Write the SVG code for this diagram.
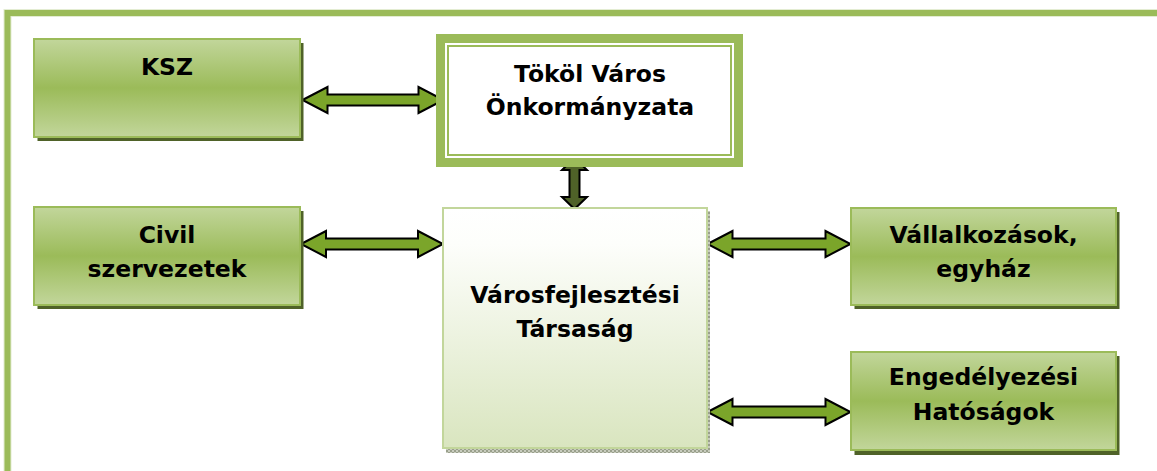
<svg xmlns="http://www.w3.org/2000/svg" width="1157" height="471" viewBox="0 0 1157 471">
<style>
.t{font-family:"DejaVu Sans","Verdana",sans-serif;font-weight:bold;font-size:23.5px;fill:#000;text-anchor:middle}
.gbox{fill:url(#gg);stroke:#9BBB59;stroke-width:2}
.shadow{fill:#4F6228}
.arr{fill:#7BA52A;stroke:#000;stroke-width:2;stroke-linejoin:miter}
.varr{fill:#4F6228;stroke:#000;stroke-width:2}
</style>
<defs>
<linearGradient id="gg" x1="0" y1="0" x2="0" y2="1">
<stop offset="0" stop-color="#C2D69B"/>
<stop offset="0.5" stop-color="#9BBB59"/>
<stop offset="1" stop-color="#C2D69B"/>
</linearGradient>
<linearGradient id="wg" x1="0" y1="0" x2="0" y2="1">
<stop offset="0" stop-color="#FFFFFF"/>
<stop offset="0.15" stop-color="#FDFEFB"/>
<stop offset="1" stop-color="#D9E5BF"/>
</linearGradient>
<pattern id="hatch" width="4" height="4" patternUnits="userSpaceOnUse">
<rect width="4" height="4" fill="#C8CCBE"/>
<rect width="2" height="2" fill="#9AA08C"/>
<rect x="2" y="2" width="2" height="2" fill="#9AA08C"/>
</pattern>
</defs>

<g id="frame">
<path d="M7.5,480 L7.5,13 L1170,13" fill="none" stroke="#E3ECD2" stroke-width="8"/>
<path d="M7.5,480 L7.5,13 L1170,13" fill="none" stroke="#9BBB59" stroke-width="6"/>
</g>

<g id="connectors">
<path class="arr" d="M302.5,100 L327.5,87 L327.5,94.5 L418.5,94.5 L418.5,87 L443.5,100 L418.5,113 L418.5,105.5 L327.5,105.5 L327.5,113 Z"/>
<path class="arr" d="M301,244 L326,231 L326,238.5 L418,238.5 L418,231 L443,244 L418,257 L418,249.5 L326,249.5 L326,257 Z"/>
<path class="arr" d="M707.5,244 L732.5,231 L732.5,238.5 L825.5,238.5 L825.5,231 L850.5,244 L825.5,257 L825.5,249.5 L732.5,249.5 L732.5,257 Z"/>
<path class="arr" d="M707.5,412 L732.5,399 L732.5,406.5 L825.5,406.5 L825.5,399 L850.5,412 L825.5,425 L825.5,417.5 L732.5,417.5 L732.5,425 Z"/>
<path class="varr" d="M574.5,158 L587,170 L579.5,170 L579.5,197 L587,197 L574.5,209 L562,197 L569.5,197 L569.5,170 L562,170 Z"/>
</g>

<g id="ksz">
<rect class="shadow" x="37.5" y="43" width="266" height="98"/>
<rect class="gbox" x="34" y="39" width="266" height="98"/>
<text class="t" x="167" y="75">KSZ</text>
</g>

<g id="tokol">
<rect x="440.5" y="38.5" width="298" height="124" fill="#FFFFFF" stroke="#9BBB59" stroke-width="9"/>
<rect x="448" y="46" width="283" height="109" fill="none" stroke="#9BBB59" stroke-width="2"/>
<text class="t" x="590" y="82">Tököl Város</text>
<text class="t" x="590" y="115">Önkormányzata</text>
</g>

<g id="civil">
<rect class="shadow" x="37.5" y="211" width="266" height="98"/>
<rect class="gbox" x="34" y="207" width="266" height="98"/>
<text class="t" x="167" y="243">Civil</text>
<text class="t" x="167" y="277">szervezetek</text>
</g>

<g id="varosfejlesztesi">
<rect x="446" y="211" width="264" height="242" fill="url(#hatch)"/>
<rect x="443" y="208" width="264" height="240" fill="url(#wg)" stroke="#C2D69B" stroke-width="2"/>
<text class="t" x="575" y="303">Városfejlesztési</text>
<text class="t" x="575" y="337">Társaság</text>
</g>

<g id="vallalkozasok">
<rect class="shadow" x="854.5" y="212" width="265" height="97"/>
<rect class="gbox" x="851" y="208" width="265" height="97"/>
<text class="t" x="983.5" y="243">Vállalkozások,</text>
<text class="t" x="983.5" y="277">egyház</text>
</g>

<g id="engedelyezesi">
<rect class="shadow" x="854.5" y="356" width="265" height="99"/>
<rect class="gbox" x="851" y="352" width="265" height="98"/>
<text class="t" x="983.5" y="385">Engedélyezési</text>
<text class="t" x="983.5" y="420">Hatóságok</text>
</g>
</svg>
